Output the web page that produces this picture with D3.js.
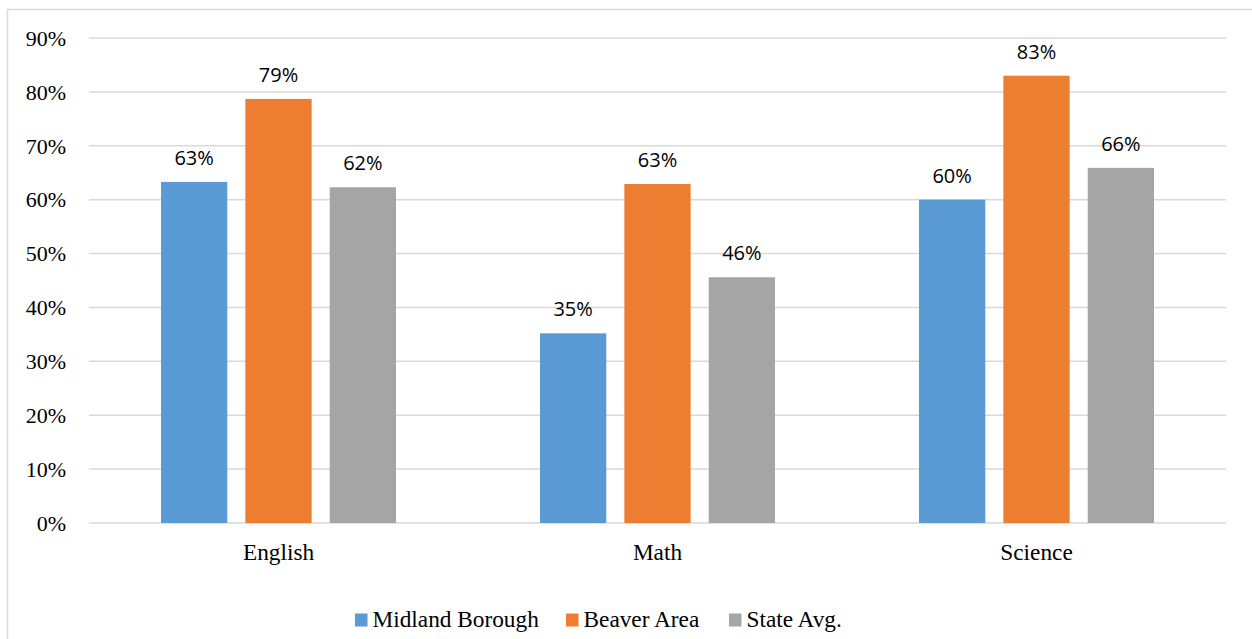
<!doctype html>
<html lang="en">
<head>
<meta charset="utf-8">
<title>Scores by subject</title>
<script src="https://cdn.jsdelivr.net/npm/d3@7"></script>
<style>
  body { margin: 0; background: #fff; }
</style>
</head>
<body>
<svg id="chart" width="1252" height="639"></svg>
<script>
// data
var subjects = ["English", "Math", "Science"];
var seriesNames = ["Midland Borough", "Beaver Area", "State Avg."];
var midland = [0.633, 0.352, 0.600];
var beaver = [0.787, 0.629, 0.830];
var stateAvg = [0.623, 0.456, 0.659];
var yTicks = [0, 0.1, 0.2, 0.3, 0.4, 0.5, 0.6, 0.7, 0.8, 0.9];

var colors = ["#5B9BD5", "#ED7D31", "#A5A5A5"];
var allSeries = [midland, beaver, stateAvg];
var serif = "'Liberation Serif', 'Times New Roman', serif";

var svg = d3.select("#chart");

// outer frame
svg.append("rect")
    .attr("x", 7.5).attr("y", 9.5)
    .attr("width", 1260).attr("height", 660)
    .attr("fill", "none").attr("stroke", "#d9d9d9").attr("stroke-width", 1.5);

var x = d3.scaleBand().domain(subjects).range([89, 1226]).paddingInner(0).paddingOuter(0);
var inner = d3.scaleBand().domain(seriesNames).range([72, 379 - 72]).paddingInner(18 / 84).paddingOuter(0);
var y = d3.scaleLinear().domain([0, 0.9]).range([523, 38]);

// gridlines
svg.append("g").selectAll("line").data(yTicks).enter().append("line")
    .attr("x1", 89).attr("x2", 1226)
    .attr("y1", d => y(d)).attr("y2", d => y(d))
    .attr("stroke", "#d9d9d9").attr("stroke-width", 1.5);

// y axis labels
var yAxis = d3.axisLeft(y).tickValues(yTicks).tickFormat(d3.format(".0%")).tickSize(0).tickPadding(0);
var yg = svg.append("g").attr("transform", "translate(66,0)").call(yAxis)
    .attr("font-family", null).attr("font-size", null);
yg.select(".domain").remove();
yg.selectAll("text")
    .style("font-family", serif)
    .style("font-size", "22px")
    .attr("dy", "0.33em")
    .attr("fill", "#000");

// bars
var groups = svg.append("g").selectAll("g").data(subjects).enter().append("g")
    .attr("transform", d => "translate(" + x(d) + ",0)");

seriesNames.forEach(function(name, si) {
  groups.append("rect")
      .attr("x", inner(name))
      .attr("width", inner.bandwidth())
      .attr("y", (d, i) => y(allSeries[si][i]))
      .attr("height", (d, i) => y(0) - y(allSeries[si][i]))
      .attr("fill", colors[si]);
  groups.append("text")
      .attr("x", inner(name) + inner.bandwidth() / 2)
      .attr("y", (d, i) => y(allSeries[si][i]) - 17)
      .attr("text-anchor", "middle")
      .style("font-family", "'Open Sans', sans-serif")
      .style("font-size", "20px")
      .attr("fill", "#000")
      .text((d, i) => d3.format(".0%")(allSeries[si][i]));
});

// category labels
var xAxis = d3.axisBottom(x).tickSize(0).tickPadding(0);
var xg = svg.append("g").attr("transform", "translate(0,543)").call(xAxis)
    .attr("font-family", null).attr("font-size", null);
xg.select(".domain").remove();
xg.selectAll("text")
    .style("font-family", serif)
    .style("font-size", "23.3px")
    .attr("fill", "#000");

// legend
var legendX = [355, 566, 729];
var legend = svg.append("g").selectAll("g").data(seriesNames).enter().append("g")
    .attr("transform", (d, i) => "translate(" + legendX[i] + ",613.5)");
legend.append("rect").attr("width", 12.5).attr("height", 13).attr("fill", (d, i) => colors[i]);
legend.append("text")
    .attr("x", 17.5).attr("y", 13)
    .style("font-family", serif)
    .style("font-size", "23.3px")
    .attr("fill", "#000")
    .text(d => d);
</script>
</body>
</html>
